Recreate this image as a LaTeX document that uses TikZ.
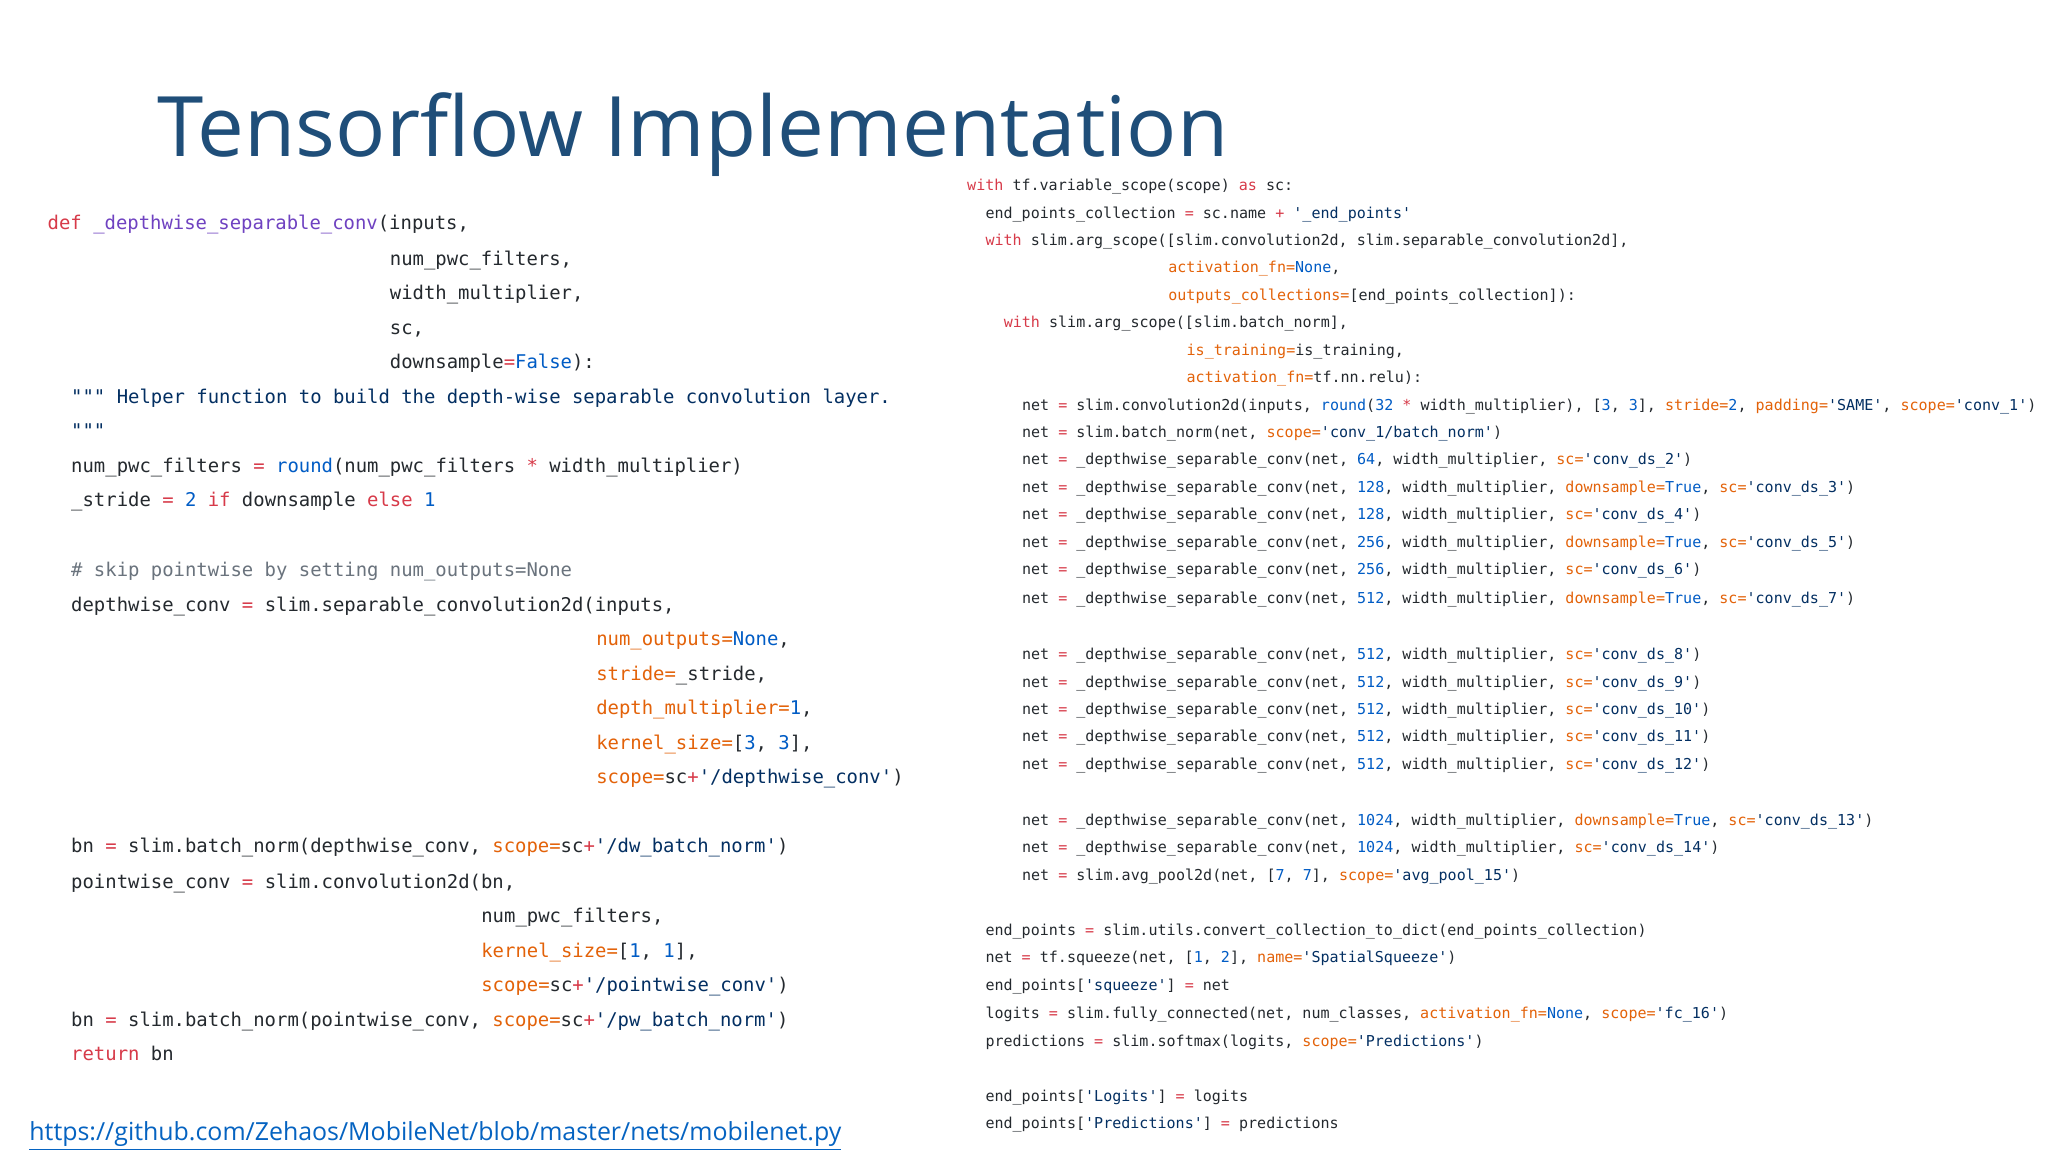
\documentclass[tikz,border=0pt]{standalone}
\usepackage{fontspec}
\setmainfont{Open Sans}
\setmonofont{DejaVu Sans Mono}
\definecolor{ckw}{HTML}{D73A49}
\definecolor{cfn}{HTML}{6F42C1}
\definecolor{carg}{HTML}{E36209}
\definecolor{cblu}{HTML}{005CC5}
\definecolor{cstr}{HTML}{032F62}
\definecolor{ctxt}{HTML}{24292E}
\definecolor{ccom}{HTML}{6A737D}
\definecolor{ctitle}{HTML}{1F4E79}
\definecolor{clink}{HTML}{0563C1}
\newcommand\K[1]{\textcolor{ckw}{#1}}
\newcommand\F[1]{\textcolor{cfn}{#1}}
\newcommand\A[1]{\textcolor{carg}{#1}}
\newcommand\B[1]{\textcolor{cblu}{#1}}
\newcommand\Sx[1]{\textcolor{cstr}{#1}}
\newcommand\Ox[1]{\textcolor{ckw}{#1}}
\newcommand\Cm[1]{\textcolor{ccom}{#1}}
\tikzset{
 lc/.style={anchor=base west,inner sep=0pt,text=ctxt,font=\ttfamily\fontsize{5.38pt}{6pt}\selectfont},
 rc/.style={anchor=base west,inner sep=0pt,text=ctxt,font=\ttfamily\fontsize{4.28pt}{5pt}\selectfont},
}
\begin{document}
\catcode`\_=12
\begin{tikzpicture}[x=0.013061cm,y=-0.013061cm]
\useasboundingbox[fill=white] (0,0) rectangle (1568,882);
\node[anchor=base west,inner sep=0pt,text=ctitle] (title) at (120,120) {\resizebox{10.71cm}{!}{Tensorflow Implementation}};
% left code
\node[lc] (l1) at (36,176) {\K{def} \F{_depthwise_separable_conv}(inputs,};
\node[lc] (l2) at (298,203) {num_pwc_filters,};
\node[lc] (l3) at (298,229) {width_multiplier,};
\node[lc] (l4) at (298,256) {sc,};
\node[lc] (l5) at (298,282) {downsample\Ox{=}\B{False}):};
\node[lc] (l6) at (54,309) {\Sx{""" Helper function to build the depth-wise separable convolution layer.}};
\node[lc] (l7) at (54,335) {\Sx{"""}};
\node[lc] (l8) at (54,362) {num_pwc_filters \Ox{=} \B{round}(num_pwc_filters \Ox{*} width_multiplier)};
\node[lc] (l9) at (54,388) {_stride \Ox{=} \B{2} \K{if} downsample \K{else} \B{1}};
\node[lc] (l10) at (54,441) {\Cm{\# skip pointwise by setting num_outputs=None}};
\node[lc] (l11) at (54,468) {depthwise_conv \Ox{=} slim.separable_convolution2d(inputs,};
\node[lc] (l12) at (456,494) {\A{num_outputs=}\B{None},};
\node[lc] (l13) at (456,521) {\A{stride=}_stride,};
\node[lc] (l14) at (456,547) {\A{depth_multiplier=}\B{1},};
\node[lc] (l15) at (456,574) {\A{kernel_size=}[\B{3}, \B{3}],};
\node[lc] (l16) at (456,600) {\A{scope=}sc\Ox{+}\Sx{'/depthwise_conv'})};
\node[lc] (l17) at (54,653) {bn \Ox{=} slim.batch_norm(depthwise_conv, \A{scope=}sc\Ox{+}\Sx{'/dw_batch_norm'})};
\node[lc] (l18) at (54,680) {pointwise_conv \Ox{=} slim.convolution2d(bn,};
\node[lc] (l19) at (368,706) {num_pwc_filters,};
\node[lc] (l20) at (368,733) {\A{kernel_size=}[\B{1}, \B{1}],};
\node[lc] (l21) at (368,759) {\A{scope=}sc\Ox{+}\Sx{'/pointwise_conv'})};
\node[lc] (l22) at (54,786) {bn \Ox{=} slim.batch_norm(pointwise_conv, \A{scope=}sc\Ox{+}\Sx{'/pw_batch_norm'})};
\node[lc] (l23) at (54,812) {\K{return} bn};
% right code
\node[rc] (r1) at (740,146) {\K{with} tf.variable_scope(scope) \K{as} sc:};
\node[rc] (r2) at (754,167) {end_points_collection \Ox{=} sc.name \Ox{+} \Sx{'_end_points'}};
\node[rc] (r3) at (754,188) {\K{with} slim.arg_scope([slim.convolution2d, slim.separable_convolution2d],};
\node[rc] (r4) at (894,209) {\A{activation_fn=}\B{None},};
\node[rc] (r5) at (894,230) {\A{outputs_collections=}[end_points_collection]):};
\node[rc] (r6) at (768,251) {\K{with} slim.arg_scope([slim.batch_norm],};
\node[rc] (r7) at (908,272) {\A{is_training=}is_training,};
\node[rc] (r8) at (908,293) {\A{activation_fn=}tf.nn.relu):};
\node[rc] (r9) at (782,314) {net \Ox{=} slim.convolution2d(inputs, \B{round}(\B{32} \Ox{*} width_multiplier), [\B{3}, \B{3}], \A{stride=}\B{2}, \A{padding=}\Sx{'SAME'}, \A{scope=}\Sx{'conv_1'})};
\node[rc] (r10) at (782,335) {net \Ox{=} slim.batch_norm(net, \A{scope=}\Sx{'conv_1/batch_norm'})};
\node[rc] (r11) at (782,356) {net \Ox{=} _depthwise_separable_conv(net, \B{64}, width_multiplier, \A{sc=}\Sx{'conv_ds_2'})};
\node[rc] (r12) at (782,377) {net \Ox{=} _depthwise_separable_conv(net, \B{128}, width_multiplier, \A{downsample=}\B{True}, \A{sc=}\Sx{'conv_ds_3'})};
\node[rc] (r13) at (782,398) {net \Ox{=} _depthwise_separable_conv(net, \B{128}, width_multiplier, \A{sc=}\Sx{'conv_ds_4'})};
\node[rc] (r14) at (782,419) {net \Ox{=} _depthwise_separable_conv(net, \B{256}, width_multiplier, \A{downsample=}\B{True}, \A{sc=}\Sx{'conv_ds_5'})};
\node[rc] (r15) at (782,440) {net \Ox{=} _depthwise_separable_conv(net, \B{256}, width_multiplier, \A{sc=}\Sx{'conv_ds_6'})};
\node[rc] (r16) at (782,462) {net \Ox{=} _depthwise_separable_conv(net, \B{512}, width_multiplier, \A{downsample=}\B{True}, \A{sc=}\Sx{'conv_ds_7'})};
\node[rc] (r17) at (782,505) {net \Ox{=} _depthwise_separable_conv(net, \B{512}, width_multiplier, \A{sc=}\Sx{'conv_ds_8'})};
\node[rc] (r18) at (782,526) {net \Ox{=} _depthwise_separable_conv(net, \B{512}, width_multiplier, \A{sc=}\Sx{'conv_ds_9'})};
\node[rc] (r19) at (782,547) {net \Ox{=} _depthwise_separable_conv(net, \B{512}, width_multiplier, \A{sc=}\Sx{'conv_ds_10'})};
\node[rc] (r20) at (782,568) {net \Ox{=} _depthwise_separable_conv(net, \B{512}, width_multiplier, \A{sc=}\Sx{'conv_ds_11'})};
\node[rc] (r21) at (782,589) {net \Ox{=} _depthwise_separable_conv(net, \B{512}, width_multiplier, \A{sc=}\Sx{'conv_ds_12'})};
\node[rc] (r22) at (782,632) {net \Ox{=} _depthwise_separable_conv(net, \B{1024}, width_multiplier, \A{downsample=}\B{True}, \A{sc=}\Sx{'conv_ds_13'})};
\node[rc] (r23) at (782,653) {net \Ox{=} _depthwise_separable_conv(net, \B{1024}, width_multiplier, \A{sc=}\Sx{'conv_ds_14'})};
\node[rc] (r24) at (782,674) {net \Ox{=} slim.avg_pool2d(net, [\B{7}, \B{7}], \A{scope=}\Sx{'avg_pool_15'})};
\node[rc] (r25) at (754,716) {end_points \Ox{=} slim.utils.convert_collection_to_dict(end_points_collection)};
\node[rc] (r26) at (754,737) {net \Ox{=} tf.squeeze(net, [\B{1}, \B{2}], \A{name=}\Sx{'SpatialSqueeze'})};
\node[rc] (r27) at (754,758) {end_points[\Sx{'squeeze'}] \Ox{=} net};
\node[rc] (r28) at (754,780) {logits \Ox{=} slim.fully_connected(net, num_classes, \A{activation_fn=}\B{None}, \A{scope=}\Sx{'fc_16'})};
\node[rc] (r29) at (754,801) {predictions \Ox{=} slim.softmax(logits, \A{scope=}\Sx{'Predictions'})};
\node[rc] (r30) at (754,843) {end_points[\Sx{'Logits'}] \Ox{=} logits};
\node[rc] (r31) at (754,864) {end_points[\Sx{'Predictions'}] \Ox{=} predictions};
% link
\node[anchor=base west,inner sep=0pt,text=clink] (link) at (22,873) {\resizebox{8.12cm}{!}{\underline{https://github.com/Zehaos/MobileNet/blob/master/nets/mobilenet.py}}};
\end{tikzpicture}
\end{document}
